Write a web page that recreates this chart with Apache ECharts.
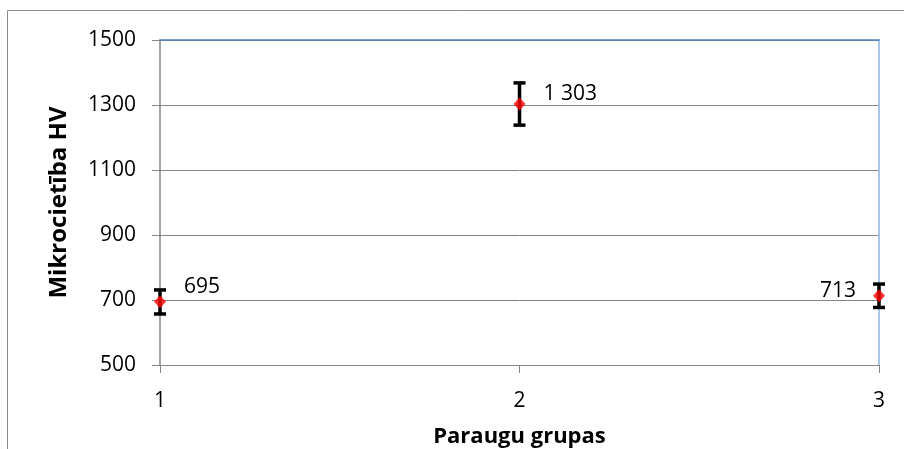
<!DOCTYPE html>
<html>
<head>
<meta charset="utf-8">
<script src="https://cdn.jsdelivr.net/npm/echarts@6/dist/echarts.min.js"></script>
<style>
  html, body { margin: 0; padding: 0; background: #fff; }
  #chart { width: 904px; height: 449px; }
</style>
</head>
<body>
<div id="chart"></div>
<script>
// data
const groups = ['1', '2', '3'];
const hardness = [695, 1303, 713];
const errPlus = [36, 65, 36];
const errMinus = [38, 65, 36];
const yTicks = { min: 500, max: 1500, step: 200 };

const font = '"Open Sans", Lato, sans-serif';

// label placement per point (right / right / left of the marker)
const labelCfg = [
  { position: 'right', distance: 18, offset: [0, -15] },
  { position: 'right', distance: 18, offset: [0, -10] },
  { position: 'left', distance: 17, offset: [0, -5] }
];

const fmt = v => String(v).replace(/\B(?=(\d{3})+(?!\d))/g, ' ');

const chart = echarts.init(document.getElementById('chart'), null, { renderer: 'canvas' });

const option = {
  animation: false,
  backgroundColor: '#fff',
  textStyle: { fontFamily: font },
  graphic: [{
    type: 'rect',
    shape: { x: 7.5, y: 10.5, width: 1200, height: 1200 },
    style: { fill: 'none', stroke: '#8c8c8c', lineWidth: 1 },
    silent: true,
    z: -1
  }],
  grid: { left: 160, right: 25, top: 40, bottom: 84, containLabel: false, outerBoundsMode: 'none' },
  xAxis: [{
    type: 'category',
    data: groups,
    boundaryGap: false,
    name: 'Paraugu grupas',
    nameLocation: 'middle',
    nameGap: 61,
    nameTextStyle: { fontFamily: font, fontSize: 22, fontWeight: 'bold', color: '#000' },
    axisLine: { lineStyle: { color: '#868686', width: 1 } },
    axisTick: { show: true, length: 8, inside: false, lineStyle: { color: '#868686' } },
    axisLabel: { fontFamily: font, fontSize: 21, color: '#000', margin: 26 },
    splitLine: { show: false }
  }, {
    type: 'category',
    data: groups,
    boundaryGap: false,
    position: 'top',
    axisLine: { lineStyle: { color: '#4F81BD', width: 1.5 } },
    axisTick: { show: false },
    axisLabel: { show: false },
    splitLine: { show: false }
  }],
  yAxis: [{
    type: 'value',
    min: yTicks.min,
    max: yTicks.max,
    interval: yTicks.step,
    name: 'Mikrocietība HV',
    nameLocation: 'middle',
    nameGap: 89,
    nameTextStyle: { fontFamily: font, fontSize: 24, fontWeight: 'bold', color: '#000' },
    axisLine: { show: true, lineStyle: { color: '#868686', width: 1.5 } },
    axisTick: { show: true, length: 8, lineStyle: { color: '#868686' } },
    axisLabel: { fontFamily: font, fontSize: 21, color: '#000', margin: 24, formatter: v => String(v) },
    splitLine: { show: true, lineStyle: { color: '#868686', width: 1 } }
  }, {
    type: 'value',
    min: yTicks.min,
    max: yTicks.max,
    interval: yTicks.step,
    position: 'right',
    axisLine: { show: true, lineStyle: { color: '#8EB4E3', width: 1.5 } },
    axisTick: { show: false },
    axisLabel: { show: false },
    splitLine: { show: false }
  }],
  series: [{
    type: 'custom',
    name: 'err',
    xAxisIndex: 0,
    yAxisIndex: 0,
    data: groups.map((g, i) => [i, hardness[i] - errMinus[i], hardness[i] + errPlus[i]]),
    renderItem: (params, api) => {
      const lo = api.coord([api.value(0), api.value(1)]);
      const hi = api.coord([api.value(0), api.value(2)]);
      const half = 6;
      const style = { stroke: '#000', lineWidth: 3.5 };
      return {
        type: 'group',
        children: [
          { type: 'line', shape: { x1: lo[0], y1: lo[1], x2: hi[0], y2: hi[1] }, style },
          { type: 'line', shape: { x1: lo[0] - half, y1: lo[1], x2: lo[0] + half, y2: lo[1] }, style },
          { type: 'line', shape: { x1: hi[0] - half, y1: hi[1], x2: hi[0] + half, y2: hi[1] }, style }
        ]
      };
    },
    z: 3
  }, {
    type: 'scatter',
    name: 'HV',
    xAxisIndex: 0,
    yAxisIndex: 0,
    symbol: 'diamond',
    symbolSize: [12, 13],
    itemStyle: { color: '#FF0000' },
    label: {
      show: true,
      color: '#000',
      opacity: 1,
      textBorderWidth: 0,
      fontFamily: font,
      fontSize: 21,
      formatter: p => fmt(p.value[1])
    },
    emphasis: { disabled: true },
    data: hardness.map((v, i) => ({
      value: [i, v],
      label: Object.assign({ color: '#000' }, labelCfg[i])
    })),
    z: 5
  }]
};

chart.setOption(option);
window.addEventListener('resize', () => chart.resize());
</script>
</body>
</html>
